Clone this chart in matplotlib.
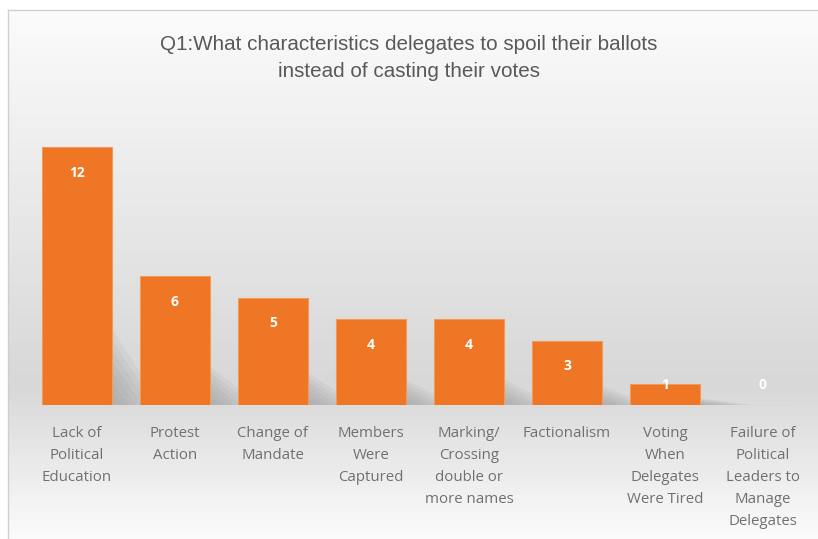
import numpy as np
import matplotlib
matplotlib.use("Agg")
import matplotlib.pyplot as plt
from matplotlib.colors import LinearSegmentedColormap
from matplotlib.patches import Polygon

categories = [
    "Lack of\nPolitical\nEducation",
    "Protest\nAction",
    "Change of\nMandate",
    "Members\nWere\nCaptured",
    "Marking/\nCrossing\ndouble or\nmore names",
    "Factionalism",
    "Voting\nWhen\nDelegates\nWere Tired",
    "Failure of\nPolitical\nLeaders to\nManage\nDelegates",
]
counts = [12, 6, 5, 4, 4, 3, 1, 0]
title = "Q1:What characteristics delegates to spoil their ballots\ninstead of casting their votes"

plt.rcParams['font.family'] = ['Open Sans', 'DejaVu Sans']

fig = plt.figure(figsize=(8.18, 5.39), dpi=100)

# background gradient for the chart area (white -> grey -> white)
bg = fig.add_axes([0.0098, 0, 0.9902, 0.981])
grad = np.concatenate([np.linspace(1.0, 0.0, 60), np.linspace(0.0, 1.0, 25)])
cmap_bg = LinearSegmentedColormap.from_list("bg", ["#d8d8d8", "#fbfbfb"])
bg.imshow(grad[:, None], aspect='auto', cmap=cmap_bg, extent=[0, 1, 0, 1])
bg.set_xticks([])
bg.set_yticks([])
for side in ['right', 'bottom']:
    bg.spines[side].set_visible(False)
for side in ['left', 'top']:
    bg.spines[side].set_color('#cfcfcf')
    bg.spines[side].set_linewidth(1.0)

fig.text(0.5, 0.893, title, ha='center', va='center', fontsize=14.9,
         color='#595959', family=['Liberation Sans', 'DejaVu Sans'], linespacing=1.55)

ax = fig.add_axes([0.0342, 0.2486, 0.9584, 0.5185])
ax.patch.set_alpha(0)
x = np.arange(len(counts))
w = 0.71

# soft shadows behind the bars
for xi, v in zip(x, counts):
    if v <= 0:
        continue
    r = xi + w / 2
    for k in range(7):
        s = 1 - k * 0.13
        poly = Polygon([(r - 0.05, 0), (r - 0.05, v * 0.32 * s),
                        (r + 0.5 * s, 0)], closed=True,
                       facecolor='#8a8a8a', edgecolor='none', alpha=0.09,
                       antialiased=False)
        ax.add_patch(poly)

ax.bar(x, counts, width=w, color='#EE7625', edgecolor='#F59A55', linewidth=0.8, zorder=3)

for xi, v in zip(x, counts):
    ax.text(xi, max(v - 1.2, 0.95), str(v), ha='center', va='center',
            fontsize=10, fontweight='bold', color='white', zorder=4)

ax.set_xlim(-0.5, len(counts) - 0.5)
ax.set_ylim(0, 13)
ax.set_yticks([])
ax.set_xticks(x)
ax.set_xticklabels(categories, fontsize=10.8, color='#707070', linespacing=1.63)
ax.tick_params(axis='x', length=0, pad=15)
for side in ax.spines.values():
    side.set_visible(False)

fig.savefig("out.png", dpi=100)
